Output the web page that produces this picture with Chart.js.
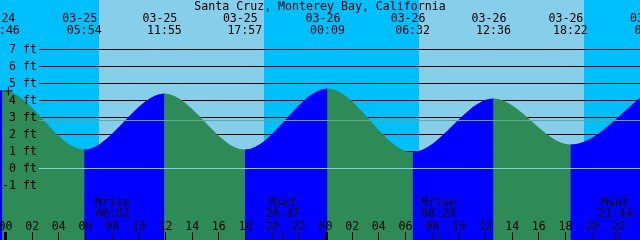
<!DOCTYPE html>
<html>
<head>
<meta charset="utf-8">
<script src="https://cdn.jsdelivr.net/npm/chart.js@4"></script>
<style>
  html, body { margin: 0; padding: 0; overflow: hidden; background: #00bfff; }
  canvas { display: block; }
</style>
</head>
<body>
<canvas id="tide" width="640" height="240"></canvas>
<script>
const title = 'Santa Cruz, Monterey Bay, California';

// high / low tide events (first one is before the visible window)
const tideDates = ['03-24', '03-24', '03-25', '03-25', '03-25', '03-26', '03-26', '03-26', '03-26', '03-27'];
const tideTimes = ['17:40', '23:46', '05:54', '11:55', '17:57', '00:09', '06:32', '12:36', '18:22', '00:29'];
const tideHeights = [1.2, 4.6, 1.1, 4.4, 1.1, 4.7, 0.95, 4.1, 1.4, 4.7];

// daylight bands
const sunriseDates = ['03-25', '03-26'];
const sunriseTimes = ['07:01', '07:01'];
const sunsetDates = ['03-25', '03-26'];
const sunsetTimes = ['19:23', '19:24'];

// moon events
const moonNames = ['Mrise', 'Mset', 'Mrise', 'Mset'];
const moonDates = ['03-25', '03-25', '03-26', '03-26'];
const moonTimes = ['08:02', '20:47', '08:28', '21:44'];

const depthTicks = [-1, 0, 1, 2, 3, 4, 5, 6, 7];
const meanLevel = 2.84;
const hourLabels = ['00', '02', '04', '06', '08', '10', '12', '14', '16', '18', '20', '22'];
const tickDays = ['03-25', '03-26'];

// "now" marker
const nowDate = '03-25';
const nowTime = '00:13';
const nowHeight = 4.55;

const EBB = '#2e8b57';
const FLOOD = '#0000ff';

function toHours(date, time) {
  const day = parseInt(date.split('-')[1], 10) - 25;
  const parts = time.split(':').map(Number);
  return day * 24 + parts[0] + parts[1] / 60;
}

const tidePoints = tideDates.map((d, i) => ({ x: toHours(d, tideTimes[i]), y: tideHeights[i] }));

const FONT = '11.6px "DejaVu Sans Mono", monospace';

function hLine(ctx, y, x0, x1, color) {
  ctx.fillStyle = color;
  ctx.fillRect(x0, Math.round(y), x1 - x0, 1);
}

const tidePlugin = {
  id: 'tideDecor',
  beforeDatasetsDraw(chart) {
    const { ctx, chartArea: a, scales: { x, y } } = chart;
    ctx.save();
    ctx.fillStyle = '#00bfff';
    ctx.fillRect(a.left, a.top, a.right - a.left, a.bottom - a.top);
    ctx.fillStyle = '#87ceeb';
    for (let i = 0; i < sunriseDates.length; i++) {
      const x0 = Math.round(x.getPixelForValue(toHours(sunriseDates[i], sunriseTimes[i])));
      const x1 = Math.round(x.getPixelForValue(toHours(sunsetDates[i], sunsetTimes[i])));
      ctx.fillRect(x0, a.top, x1 - x0, a.bottom - a.top);
    }
    for (const v of depthTicks) {
      hLine(ctx, y.getPixelForValue(v), 39, a.right, '#000000');
    }
    ctx.restore();
  },
  afterDatasetsDraw(chart) {
    const { ctx, chartArea: a, scales: { x, y } } = chart;
    ctx.save();
    hLine(ctx, y.getPixelForValue(meanLevel), 39, a.right, '#64a894');
    hLine(ctx, y.getPixelForValue(0), 39, a.right, '#87ceeb');

    ctx.font = FONT;
    ctx.fillStyle = '#000000';
    ctx.textBaseline = 'alphabetic';

    // depth labels
    ctx.textAlign = 'right';
    for (const v of depthTicks) {
      ctx.fillText(v + ' ft', 37, y.getPixelForValue(v) + 4);
    }

    // title and tide event labels
    ctx.textAlign = 'center';
    ctx.fillText(title, 320, 10);
    for (let i = 0; i < tideDates.length; i++) {
      const px = x.getPixelForValue(toHours(tideDates[i], tideTimes[i]));
      ctx.fillText(tideDates[i], px - 4.5, 22);
      ctx.fillText(tideTimes[i], px, 34);
    }

    // hour ticks and labels
    for (const d of tickDays) {
      for (const lbl of hourLabels) {
        const px = x.getPixelForValue(toHours(d, lbl + ':00'));
        ctx.fillText(lbl, px, 229.5);
        if (lbl === '00') {
          ctx.fillRect(Math.round(px) - 1, 232, 3, 8);
        } else {
          ctx.fillRect(Math.floor(px), 232, 1, 8);
        }
      }
    }

    // moon events
    for (let i = 0; i < moonNames.length; i++) {
      const px = x.getPixelForValue(toHours(moonDates[i], moonTimes[i]));
      ctx.fillText(moonNames[i], px, 206);
      ctx.fillText(moonTimes[i], px, 217);
      ctx.fillRect(Math.floor(px), 232, 1, 8);
    }
    ctx.restore();
  }
};

new Chart(document.getElementById('tide').getContext('2d'), {
  type: 'line',
  data: {
    datasets: [
      {
        // whole water body in ebb colour
        data: tidePoints,
        order: 3,
        fill: 'start',
        borderWidth: 0,
        pointRadius: 0,
        cubicInterpolationMode: 'monotone',
        backgroundColor: EBB
      },
      {
        // rising stretches painted over in flood colour
        data: tidePoints,
        order: 2,
        fill: 'start',
        borderWidth: 0,
        pointRadius: 0,
        cubicInterpolationMode: 'monotone',
        backgroundColor: 'rgba(0,0,0,0)',
        segment: {
          backgroundColor: c => (c.p1.parsed.y > c.p0.parsed.y ? FLOOD : 'rgba(0,0,0,0)')
        }
      },
      {
        data: [{ x: toHours(nowDate, nowTime), y: nowHeight }],
        order: 1,
        showLine: false,
        pointStyle: 'cross',
        pointRadius: 4.5,
        borderColor: '#000000',
        borderWidth: 1
      }
    ]
  },
  options: {
    responsive: false,
    animation: false,
    layout: { padding: 0, autoPadding: false },
    elements: { line: { capBezierPoints: false } },
    plugins: { legend: { display: false }, tooltip: { enabled: false } },
    scales: {
      x: { type: 'linear', min: -0.4125, max: 47.5875, display: false },
      y: { type: 'linear', min: -4.22, max: 9.9, display: false }
    }
  },
  plugins: [tidePlugin]
});
</script>
</body>
</html>
